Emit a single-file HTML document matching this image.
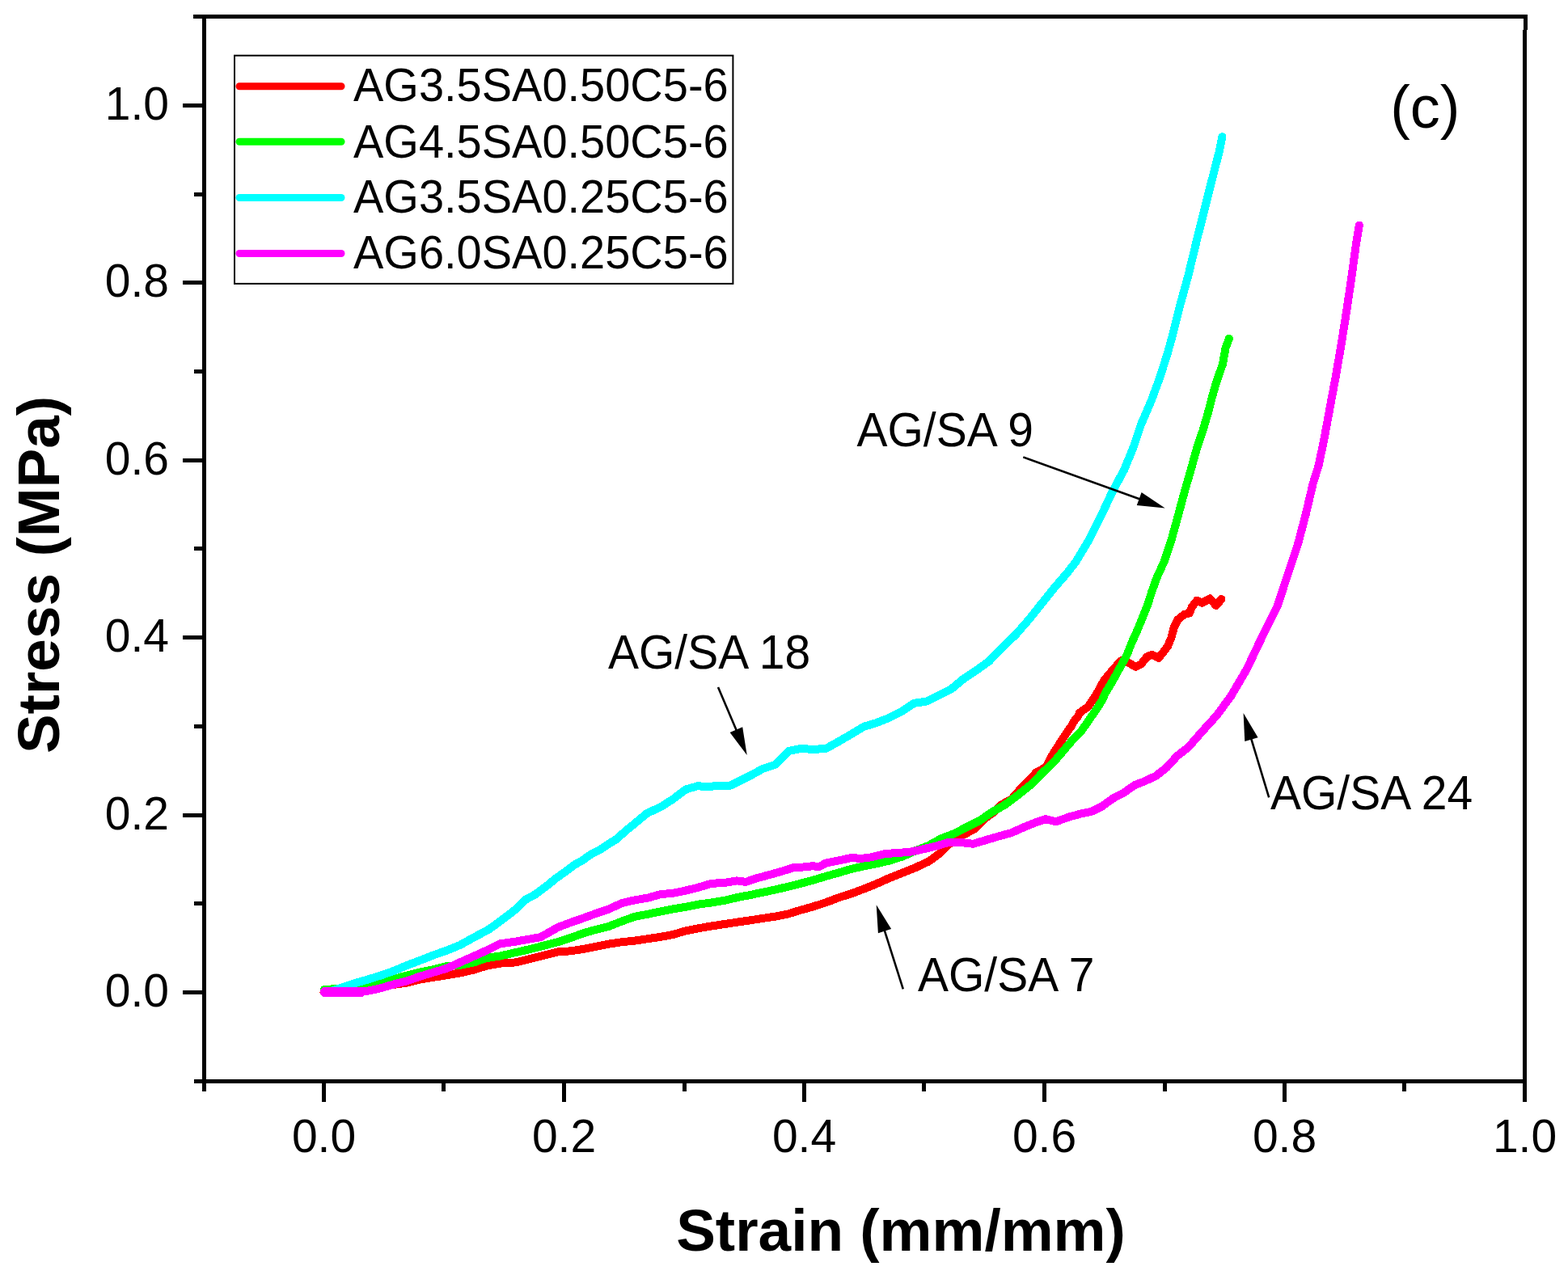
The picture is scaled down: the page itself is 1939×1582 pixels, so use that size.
<!DOCTYPE html><html><head><meta charset="utf-8"><title>Stress-Strain</title><style>html,body{margin:0;padding:0;background:#fff;}body{width:1939px;height:1582px;overflow:hidden;}svg{display:block;}text{font-family:"Liberation Sans",Arial,sans-serif;}</style></head><body>
<svg width="1939" height="1582" viewBox="0 0 1939 1582">
<rect width="1939" height="1582" fill="#fff"/>
<g fill="#000" shape-rendering="crispEdges"><rect x="239" y="18" width="1650" height="5"/><rect x="250" y="23" width="5" height="1327"/><rect x="240" y="1335" width="1648" height="5"/><rect x="1883" y="37" width="5" height="1326"/><rect x="1884" y="18" width="5" height="19"/><rect x="240" y="1335" width="10" height="5"/><rect x="226" y="1225" width="24" height="5"/><rect x="240" y="1115" width="10" height="5"/><rect x="226" y="1006" width="24" height="5"/><rect x="240" y="896" width="10" height="5"/><rect x="226" y="786" width="24" height="5"/><rect x="240" y="676" width="10" height="5"/><rect x="226" y="567" width="24" height="5"/><rect x="240" y="457" width="10" height="5"/><rect x="226" y="347" width="24" height="5"/><rect x="240" y="238" width="10" height="5"/><rect x="226" y="128" width="24" height="5"/><rect x="240" y="18" width="10" height="5"/><rect x="250" y="1340" width="5" height="10"/><rect x="398" y="1340" width="5" height="23"/><rect x="546" y="1340" width="5" height="10"/><rect x="695" y="1340" width="5" height="23"/><rect x="844" y="1340" width="5" height="10"/><rect x="992" y="1340" width="5" height="23"/><rect x="1140" y="1340" width="5" height="10"/><rect x="1289" y="1340" width="5" height="23"/><rect x="1438" y="1340" width="5" height="10"/><rect x="1586" y="1340" width="5" height="23"/><rect x="1734" y="1340" width="5" height="10"/><rect x="1883" y="1340" width="5" height="23"/></g>
<g font-size="57" fill="#000">
<text transform="translate(209 1244.9) scale(1 1.02)" text-anchor="end">0.0</text>
<text transform="translate(209 1025.5) scale(1 1.02)" text-anchor="end">0.2</text>
<text transform="translate(209 806.1) scale(1 1.02)" text-anchor="end">0.4</text>
<text transform="translate(209 586.7) scale(1 1.02)" text-anchor="end">0.6</text>
<text transform="translate(209 367.3) scale(1 1.02)" text-anchor="end">0.8</text>
<text transform="translate(209 147.9) scale(1 1.02)" text-anchor="end">1.0</text>
<text transform="translate(400.5 1425) scale(1 1.02)" text-anchor="middle">0.0</text>
<text transform="translate(697.5 1425) scale(1 1.02)" text-anchor="middle">0.2</text>
<text transform="translate(994.5 1425) scale(1 1.02)" text-anchor="middle">0.4</text>
<text transform="translate(1291.5 1425) scale(1 1.02)" text-anchor="middle">0.6</text>
<text transform="translate(1588.5 1425) scale(1 1.02)" text-anchor="middle">0.8</text>
<text transform="translate(1885.5 1425) scale(1 1.02)" text-anchor="middle">1.0</text>
</g>
<text x="1114" y="1547" font-size="73" font-weight="bold" text-anchor="middle">Strain (mm/mm)</text>
<text transform="translate(72.7 711) rotate(-90)" font-size="73" font-weight="bold" text-anchor="middle">Stress (MPa)</text>
<text x="1762.3" y="158" font-size="74" text-anchor="middle">(c)</text>
<polyline points="400.5,1227.4 440.0,1223.0 470.0,1220.0 490.0,1217.5 503.0,1215.7 519.5,1211.6 536.0,1208.7 552.5,1206.3 569.0,1203.4 585.5,1199.7 602.0,1194.5 618.5,1191.6 637.6,1190.4 690.0,1177.4 705.8,1176.3 721.6,1173.9 737.4,1170.8 753.2,1167.6 769.0,1165.2 784.8,1163.6 800.6,1161.3 816.4,1158.9 832.2,1156.1 848.1,1151.3 863.9,1148.2 879.7,1145.5 895.5,1143.1 911.3,1140.7 927.1,1138.4 942.9,1136.0 958.7,1133.6 974.5,1130.5 990.0,1125.7 1005.8,1121.3 1021.6,1116.2 1037.4,1110.2 1053.2,1105.2 1069.0,1099.2 1084.8,1092.8 1100.6,1085.7 1116.4,1079.4 1132.2,1073.1 1148.1,1065.7 1160.7,1056.6 1173.2,1044.5 1192.5,1032.1 1204.1,1025.9 1219.6,1011.2 1227.3,1005.8 1238.9,995.0 1250.5,988.9 1262.1,975.7 1281.5,955.5 1294.0,948.5 1300.0,935.9 1308.2,923.2 1316.1,910.6 1325.0,897.9 1328.5,891.6 1333.5,885.3 1334.8,881.8 1345.9,873.9 1356.2,858.1 1364.9,842.2 1371.2,834.3 1380.7,823.3 1387.0,817.0 1396.5,820.1 1404.4,824.9 1410.7,821.7 1418.6,812.2 1424.9,809.8 1432.8,813.8 1439.1,805.9 1443.9,799.6 1448.6,788.5 1451.8,775.9 1456.5,766.4 1464.4,760.1 1470.8,758.5 1473.9,750.6 1480.2,742.7 1486.6,745.8 1496.0,740.3 1503.9,749.0 1510.3,741.1" fill="none" stroke="#ff0000" stroke-width="10" stroke-linejoin="round" stroke-linecap="round" shape-rendering="crispEdges"/>
<polyline points="401.0,1224.0 417.0,1223.0 450.0,1219.5 483.0,1212.0 503.0,1206.6 519.5,1202.5 536.0,1199.2 552.5,1195.0 569.0,1193.9 585.5,1190.6 602.0,1185.0 618.5,1182.5 653.0,1174.6 690.0,1165.2 705.8,1160.0 721.6,1154.2 737.4,1149.7 753.2,1145.8 769.0,1139.5 784.8,1133.9 800.6,1130.8 816.4,1127.6 832.2,1124.4 848.1,1121.8 863.9,1118.6 879.7,1116.5 895.5,1113.9 911.3,1110.2 927.1,1107.1 942.9,1103.9 958.7,1100.4 974.5,1096.8 990.0,1092.8 1005.8,1088.6 1021.6,1083.8 1037.4,1079.4 1053.2,1074.7 1069.0,1071.2 1084.8,1068.0 1100.6,1064.4 1116.4,1059.3 1132.2,1052.2 1148.1,1045.9 1163.9,1037.2 1179.7,1031.2 1195.5,1023.0 1211.3,1015.1 1227.1,1004.3 1242.9,995.3 1258.7,983.5 1274.5,970.8 1290.2,954.8 1303.5,942.2 1314.2,929.5 1325.0,916.9 1337.3,904.2 1345.9,891.6 1354.7,879.0 1362.9,866.3 1366.4,858.1 1375.9,842.2 1384.6,826.4 1393.3,810.6 1399.6,794.8 1406.7,779.0 1413.1,763.2 1419.4,747.4 1424.4,731.6 1430.0,715.8 1439.4,695.0 1448.9,666.5 1456.8,638.1 1464.4,609.6 1472.6,581.2 1480.5,552.8 1487.8,531.5 1493.7,511.3 1498.9,491.0 1504.8,470.8 1511.9,450.6 1515.6,430.3 1519.9,418.7" fill="none" stroke="#00ff00" stroke-width="10" stroke-linejoin="round" stroke-linecap="round" shape-rendering="crispEdges"/>
<polyline points="401.5,1227.2 406.0,1227.0 420.0,1222.5 436.6,1216.8 455.0,1211.5 470.0,1206.8 486.5,1201.1 503.0,1194.2 519.5,1187.9 536.0,1181.4 552.5,1175.6 569.0,1168.9 585.5,1159.8 605.3,1149.1 624.2,1135.2 636.9,1125.4 649.5,1113.1 662.2,1106.1 674.8,1096.7 687.5,1086.5 698.8,1078.3 710.6,1069.6 720.9,1063.9 731.3,1056.2 741.6,1051.3 751.9,1044.3 762.2,1038.1 772.5,1028.8 800.6,1005.6 816.4,998.5 832.2,988.5 848.1,976.4 863.9,971.9 871.8,973.5 887.6,971.9 903.4,971.6 911.3,967.7 927.1,959.8 942.9,951.1 958.7,945.8 975.5,929.0 990.9,925.9 1006.4,927.1 1021.9,925.6 1037.4,917.0 1052.8,908.1 1068.3,898.8 1083.8,894.1 1099.3,888.0 1114.7,880.2 1130.2,869.9 1145.7,867.5 1161.1,860.1 1176.6,852.1 1192.1,839.2 1207.6,828.9 1223.0,818.0 1240.0,800.4 1255.8,785.3 1271.6,767.2 1287.4,747.4 1303.2,727.7 1319.0,709.5 1330.3,695.0 1347.4,666.5 1361.6,638.1 1374.9,609.6 1390.1,581.2 1401.8,552.8 1411.3,524.3 1423.6,495.9 1434.1,467.4 1443.2,439.0 1449.8,415.5 1459.3,377.6 1469.7,339.6 1478.8,301.7 1488.3,263.8 1497.8,225.9 1507.6,187.9 1511.4,169.3" fill="none" stroke="#00ffff" stroke-width="10" stroke-linejoin="round" stroke-linecap="round" shape-rendering="crispEdges"/>
<polyline points="400.5,1227.4 447.0,1227.0 458.0,1225.0 470.0,1222.5 486.5,1217.6 503.0,1213.4 519.5,1207.7 536.0,1202.7 552.5,1197.8 569.0,1190.3 585.5,1182.9 602.0,1175.5 618.5,1167.4 637.6,1164.6 668.5,1159.1 690.0,1147.0 705.8,1141.0 721.6,1135.5 737.4,1129.7 753.2,1124.4 769.0,1117.0 784.8,1113.4 800.6,1110.7 816.4,1106.3 832.2,1104.7 848.1,1101.5 863.9,1097.6 879.7,1092.8 895.5,1092.0 911.3,1089.4 922.3,1090.9 935.0,1086.5 950.8,1082.2 966.6,1077.8 982.4,1072.8 990.0,1072.8 1005.8,1071.2 1012.1,1072.4 1021.6,1067.5 1037.4,1064.4 1053.2,1060.9 1064.3,1062.0 1076.9,1060.4 1092.7,1056.5 1108.5,1054.9 1124.3,1054.1 1140.2,1050.6 1156.0,1047.0 1171.8,1042.3 1187.6,1041.9 1203.4,1043.8 1219.2,1039.1 1235.0,1034.4 1250.8,1030.1 1266.6,1023.0 1282.4,1016.7 1292.6,1013.2 1305.8,1016.2 1323.1,1010.2 1336.4,1006.6 1349.6,1003.9 1362.9,997.3 1376.2,987.6 1389.4,980.7 1402.7,971.4 1416.0,966.1 1429.3,959.8 1442.5,949.5 1455.8,934.9 1469.1,924.7 1486.5,904.9 1504.2,885.4 1521.9,861.5 1539.6,831.4 1542.8,825.5 1560.8,787.6 1579.7,749.6 1592.1,711.7 1604.8,673.8 1614.8,635.9 1623.7,597.9 1630.7,575.5 1637.4,543.2 1644.9,502.7 1652.4,462.3 1659.3,421.8 1665.7,381.4 1671.6,340.9 1677.1,300.5 1680.9,278.6" fill="none" stroke="#ff00ff" stroke-width="10" stroke-linejoin="round" stroke-linecap="round" shape-rendering="crispEdges"/>
<polyline points="401.5,1227 446.5,1227" fill="none" stroke="#ff00ff" stroke-width="12" stroke-linecap="round" shape-rendering="crispEdges"/>
<rect x="290" y="68.7" width="616.4" height="282.2" fill="none" stroke="#000" stroke-width="2"/>
<line x1="296" y1="106.7" x2="422" y2="106.7" stroke="#ff0000" stroke-width="9" stroke-linecap="round"/>
<text transform="translate(437 124.5) scale(1 1.025)" font-size="56">AG3.5SA0.50C5-6</text>
<line x1="296" y1="175.2" x2="422" y2="175.2" stroke="#00ff00" stroke-width="9" stroke-linecap="round"/>
<text transform="translate(437 194.6) scale(1 1.025)" font-size="56">AG4.5SA0.50C5-6</text>
<line x1="296" y1="244.5" x2="422" y2="244.5" stroke="#00ffff" stroke-width="9" stroke-linecap="round"/>
<text transform="translate(437 263) scale(1 1.025)" font-size="56">AG3.5SA0.25C5-6</text>
<line x1="296" y1="313.5" x2="422" y2="313.5" stroke="#ff00ff" stroke-width="9" stroke-linecap="round"/>
<text transform="translate(437 331.5) scale(1 1.025)" font-size="56">AG6.0SA0.25C5-6</text>
<g font-size="57">
<text transform="translate(1059.5 552) scale(1 1.025)">AG/SA 9</text>
<text transform="translate(752 827) scale(1 1.025)">AG/SA 18</text>
<text transform="translate(1571 1001) scale(1 1.025)">AG/SA 24</text>
<text transform="translate(1135 1226) scale(1 1.025)">AG/SA 7</text>
</g>
<line x1="1265.3" y1="565.4" x2="1410.6" y2="617.8" stroke="#000" stroke-width="2.6"/><polygon points="1440.7,628.6 1405.8,625.1 1411.6,609.1" fill="#000"/>
<line x1="888.0" y1="850.1" x2="911.2" y2="904.5" stroke="#000" stroke-width="2.6"/><polygon points="923.7,933.9 902.6,906.0 918.2,899.3" fill="#000"/>
<line x1="1569.2" y1="986.3" x2="1546.9" y2="912.7" stroke="#000" stroke-width="2.6"/><polygon points="1537.6,882.1 1555.6,912.2 1539.3,917.1" fill="#000"/>
<line x1="1116.8" y1="1223.4" x2="1093.4" y2="1149.7" stroke="#000" stroke-width="2.6"/><polygon points="1083.7,1119.2 1102.1,1149.0 1085.9,1154.2" fill="#000"/>
</svg></body></html>
